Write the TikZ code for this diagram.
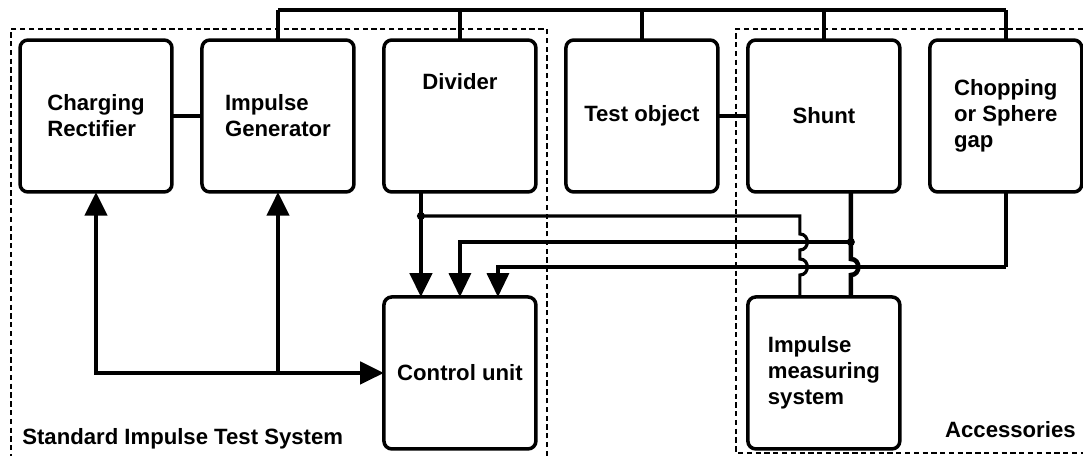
\documentclass[tikz,border=0pt]{standalone}
\usepackage{fontspec}
\setmainfont{Liberation Sans}
\usetikzlibrary{positioning,calc,arrows.meta}

\begin{document}
\begin{tikzpicture}[
  x=0.02cm, y=-0.02cm,
  node distance=2.1cm and 0.6cm,
  font=\fontsize{12.6}{14.8}\selectfont\bfseries,
  unit/.style={draw,rounded corners=4.5pt,line width=2pt,minimum width=3.04cm,
    minimum height=3.04cm,outer sep=0pt,inner sep=0pt,align=left},
  thinline/.style={line width=1.8pt},
  thickline/.style={line width=2.6pt},
  busline/.style={line width=2.8pt},
  dropline/.style={line width=2.1pt},
  frame/.style={dash pattern=on 3pt off 2pt,line width=0.9pt},
  >={Triangle[length=13.5pt,width=12.5pt]}
]
\path[use as bounding box,fill=white] (0,0) rectangle (1083,456);

% dashed system frames
\draw[frame] (547,456) -- (547,29) -- (11,29) -- (11,456);
\draw[frame] (1083,29) -- (736,29) -- (736,453) -- (1083,453);

\node[unit] (cr) at (96,116) {Charging\\Rectifier};
\node[unit,right=of cr] (ig) {Impulse\\Generator};
\node[unit,right=of ig,label={[yshift=0.68cm]center:Divider}] (div) {};
\node[unit,right=of div] (test) {Test object};
\node[unit,right=of test] (shunt) {Shunt};
\node[unit,right=of shunt] (chop) {Chopping\\or Sphere\\gap};
\node[unit,below=of div] (ctrl) {Control unit};
\node[unit,below=of shunt] (ims) {Impulse\\measuring\\system};

\node[anchor=base west,inner sep=0pt] (stdlabel) at (22,444) {Standard Impulse Test System};
\node[anchor=base east,inner sep=0pt] (acclabel) at (1076,437) {Accessories};

% high voltage bus
\coordinate (bus) at (0,10);
\draw[busline] (ig.north |- bus) -- (chop.north |- bus);
\foreach \n in {ig,div,test,shunt,chop}
  \draw[dropline] (\n.north) -- (\n.north |- bus);

\draw[thinline] (cr) -- (ig);
\draw[thickline] (test) -- (shunt);

% control
\draw[thickline,<->] (cr.south) |- (ctrl.west);
\draw[thickline,->] (ig.south |- ctrl.west) -- (ig.south);

% measuring signals
\coordinate (h1) at (0,216);
\coordinate (h2) at (0,242);
\coordinate (h3) at (0,267);
\coordinate (dtap) at ($(div.south)+(-39,0)$);
\coordinate (m1) at ($(ims.north)+(-24,0)$);
\coordinate (m2) at ($(ims.north)+(27,0)$);
\coordinate (cin) at ($(ctrl.north)+(38,0)$);

\draw[thickline,->] (dtap) -- (dtap |- ctrl.north);
\draw[thinline] (dtap |- h1) -- (m1 |- h1)
  -- ($(m1 |- h2)+(0,-8)$) to[out=0,in=0,looseness=1.6] ($(m1 |- h2)+(0,8)$)
  -- ($(m1 |- h3)+(0,-8)$) to[out=0,in=0,looseness=1.6] ($(m1 |- h3)+(0,8)$)
  -- (m1);
\fill (dtap |- h1) circle (2.3pt);

\draw[thickline] (m2 |- shunt.south)
  -- ($(m2 |- h3)+(0,-8)$) to[out=0,in=0,looseness=1.6] ($(m2 |- h3)+(0,8)$)
  -- (m2);
\draw[thinline,->] (m2 |- h2) -| (ctrl.north);
\fill (m2 |- h2) circle (2.3pt);

\draw[thickline] (chop.south) -- (chop.south |- h3);
\draw[thinline,->] (chop.south |- h3) -| (cin);
\end{tikzpicture}
\end{document}
